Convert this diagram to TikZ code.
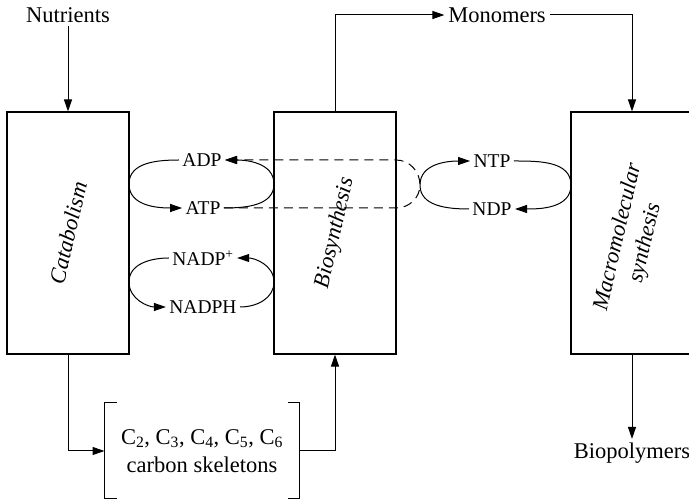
\documentclass[tikz,border=0pt]{standalone}
\usepackage{fontspec}
\setmainfont{Liberation Serif}
\usetikzlibrary{arrows.meta}
\tikzset{block/.style = {draw, line width=1.1pt, minimum width=122pt, minimum height=242pt},
  big/.style = {font=\fontsize{22.5}{28}\selectfont},
  small/.style = {font=\fontsize{19.5}{24}\selectfont, inner sep=3pt},
  tip/.style = {-{Triangle[length=12pt,width=8pt]}}}

\begin{document}
\begin{tikzpicture}[x=1pt, y=-1pt, line width=1pt]
      \useasboundingbox (0,0) rectangle (689,502);
      \node[block] (cat) at (68,233) {};
      \node[block] (bio) at (335,233) {};
      \node[block] (mac) at (632,233) {};
      \node[big, rotate=77] at (cat.center) {\itshape Catabolism};
      \node[big, rotate=77] at (bio.center) {\itshape Biosynthesis};
      \node[big, rotate=77, align=center] at (632,240) {\itshape Macromolecular\\\itshape synthesis};
      \node[big] (nutr) at (68,15) {Nutrients};
      \node[big] (mono) at (497,15) {Monomers};
      \node[big] (biop) at (632,453) {Biopolymers};
      \node[big, align=center, minimum width=194pt, minimum height=95pt] (skel) at (202,451)
        {C\textsubscript{2}, C\textsubscript{3}, C\textsubscript{4}, C\textsubscript{5}, C\textsubscript{6}\\carbon skeletons};
      \draw (skel.north west) ++(12,0) -- (skel.north west) -- (skel.south west) -- ++(12,0);
      \draw (skel.north east) ++(-12,0) -- (skel.north east) -- (skel.south east) -- ++(-12,0);
      \draw[tip] (nutr) -- (cat.north);
      \draw[tip] (cat.south) |- (skel.west);
      \draw[tip] (skel.east) -| (bio.south);
      \draw[tip] (bio.north) |- (mono.west);
      \draw[tip] (mono.east) -| (mac.north);
      \draw[tip] (mac.south) -- (biop.north);
      \node[small] (adp) at (202,160) {ADP};
      \node[small] (atp) at (203,208) {ATP};
      \node[small] (nadp) at (203,258) {NADP\textsuperscript{+}};
      \node[small] (nadph) at (203,307) {NADPH};
      \node[small] (ntp) at (492,161) {NTP};
      \node[small] (ndp) at (492,209) {NDP};
      \draw[tip] (adp.west) to[out=180,in=90] (129,184) to[out=-90,in=180] (atp.west);
      \draw[tip] (atp.east) to[out=0,in=-90] (274,184) to[out=90,in=0] (adp.east);
      \draw[tip] (nadp.west) to[out=180,in=90] (129,282) to[out=-90,in=180] (nadph.west);
      \draw[tip] (nadph.east) to[out=0,in=-90] (274,282) to[out=90,in=0] (nadp.east);
      \draw[tip] (ndp.west) to[out=180,in=-90] (420,185) to[out=90,in=180] (ntp.west);
      \draw[tip] (ntp.east) to[out=0,in=90] (571,185) to[out=-90,in=0] (ndp.east);
      \draw[tip, dash pattern=on 9pt off 6pt] (atp.east) -- (396,208) to[out=0,in=-90] (420,185)
        to[out=90,in=0] (396,160) -- (adp.east);
    \end{tikzpicture}
\end{document}
